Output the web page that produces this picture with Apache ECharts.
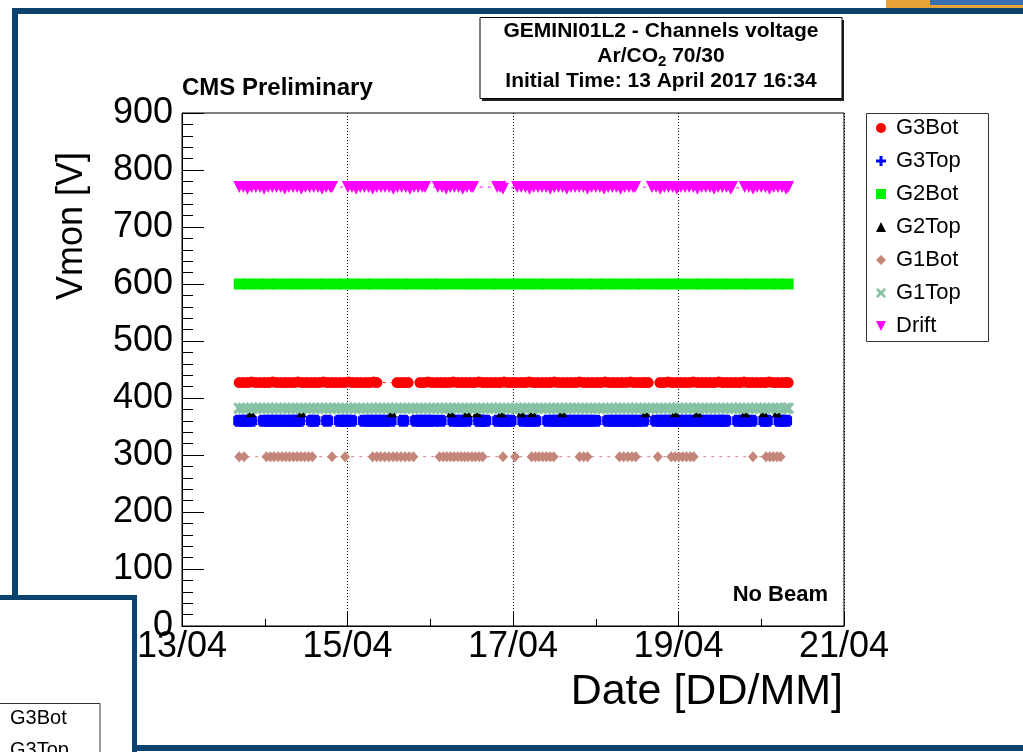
<!DOCTYPE html>
<html>
<head>
<meta charset="utf-8">
<script src="https://cdn.jsdelivr.net/npm/echarts@6/dist/echarts.min.js"></script>
<style>
  html, body { margin: 0; padding: 0; background: #fff; }
  #chart { width: 1023px; height: 752px; }
</style>
</head>
<body>
<div id="chart"></div>
<script>
// Time axis in hours since 13/04/2017 00:00, voltages in volts.
const dayLabels = ['13/04', '15/04', '17/04', '19/04', '21/04'];
const seriesNames = ['G3Bot', 'G3Top', 'G2Bot', 'G2Top', 'G1Bot', 'G1Top', 'Drift'];

const g3Bot = [
  [16.6,427],[17.8,427],[19.0,427],[20.2,428],[21.4,427],[22.7,427],[23.9,427],[25.1,427],[26.3,428],[27.5,427],
  [28.8,427],[30.0,427],[31.2,427],[32.4,427],[33.6,428],[34.9,427],[36.1,427],[37.3,427],[38.5,427],[39.7,427],
  [41.0,428],[42.2,427],[43.4,427],[44.6,427],[45.8,427],[47.1,427],[48.3,428],[49.5,427],[50.7,427],[51.9,427],
  [53.2,427],[54.4,427],[55.6,428],[56.5,427],
  [62.4,427],[63.5,427],[64.6,427],[65.6,427],
  [69.0,427],[70.2,427],[71.4,428],[72.6,427],[73.9,427],[75.1,427],[76.3,427],[77.5,427],[78.7,428],[80.0,427],
  [81.2,427],[82.4,427],[83.6,427],[84.8,427],[86.1,428],[87.3,427],[88.5,427],[89.7,427],[90.9,427],[92.2,427],
  [93.4,428],[94.6,427],[95.8,427],[97.0,427],[98.3,427],[99.5,427],[100.7,428],[101.9,427],[103.1,427],[104.4,427],
  [105.6,427],[106.8,427],[108.0,428],[109.2,427],[110.5,427],[111.7,427],[112.9,427],[114.1,427],[115.3,428],
  [116.6,427],[117.8,427],[119.0,427],[120.2,427],[121.4,427],[122.7,428],[123.9,427],[125.1,427],[126.3,427],
  [127.5,427],[128.8,427],[130.0,428],[131.2,427],[132.4,427],[133.6,427],[134.5,427],[135.2,427],
  [138.6,427],[139.8,427],[141.0,428],[142.2,427],[143.5,427],[144.7,427],[145.9,427],[147.1,427],[148.3,428],
  [149.6,427],[150.8,427],[152.0,427],[153.2,427],[154.4,427],[155.7,428],[156.9,427],[158.1,427],[159.3,427],
  [160.5,427],[161.8,427],[163.0,428],[164.2,427],[165.4,427],[166.6,427],[167.9,427],[169.1,427],[170.3,428],
  [171.5,427],[172.7,427],[174.0,427],[175.2,427],[175.8,427]
];

const g3Top = [
  [16.6,360],[17.8,360],[19.0,360],[20.0,360],
  [23.7,360],[24.9,360],[26.1,360],[27.3,360],[28.5,360],[29.7,360],[30.9,360],[32.1,360],[33.3,360],[34.0,360],
  [37.7,360],[38.4,360],[42.1,360],[45.8,360],[46.8,360],[47.8,360],[49.1,360],
  [52.8,360],[54.1,360],[55.3,360],[56.5,360],[57.7,360],[58.9,360],[60.5,360],
  [64.2,360],[67.9,360],[69.2,360],[70.4,360],[71.6,360],[72.8,360],[75.0,360],
  [78.7,360],[80.0,360],[81.2,360],[82.5,360],[86.2,360],[87.0,360],[88.0,360],
  [91.7,360],[93.0,360],[94.2,360],[95.3,360],[99.0,360],[100.3,360],[101.5,360],[102.5,360],
  [106.2,360],[107.5,360],[108.7,360],[109.9,360],[111.1,360],[112.3,360],[113.5,360],[114.7,360],[115.9,360],
  [117.1,360],[118.3,360],[119.9,360],
  [123.6,360],[124.9,360],[126.1,360],[127.3,360],[128.5,360],[129.7,360],[130.9,360],[132.1,360],[133.8,360],
  [137.5,360],[138.8,360],[140.0,360],[141.2,360],[142.4,360],[143.6,360],[144.8,360],[146.0,360],[147.2,360],
  [148.4,360],[149.6,360],[150.8,360],[152.0,360],[153.2,360],[154.4,360],[155.6,360],[156.8,360],[157.6,360],
  [161.3,360],[162.6,360],[163.8,360],[165.2,360],[168.9,360],[169.6,360],[173.3,360],[174.2,360],[175.2,360]
];

const g2Bot = [
  [16.6,600],[19.3,600],[22.1,600],[24.9,600],[27.6,600],[30.5,600],[33.3,600],[36.0,600],[38.9,600],[41.7,600],
  [44.5,600],[47.2,600],[50.1,600],[52.9,600],[55.6,600],[58.5,600],[61.3,600],[64.1,600],[66.8,600],[69.7,600],
  [72.5,600],[75.2,600],[78.1,600],[80.9,600],[83.7,600],[86.4,600],[89.3,600],[92.1,600],[94.8,600],[97.7,600],
  [100.5,600],[103.3,600],[106.0,600],[108.9,600],[111.7,600],[114.4,600],[117.3,600],[120.1,600],[122.9,600],
  [125.6,600],[128.5,600],[131.3,600],[134.0,600],[136.9,600],[139.7,600],[142.5,600],[145.2,600],[148.1,600],
  [150.9,600],[153.6,600],[156.5,600],[159.3,600],[162.1,600],[164.8,600],[167.7,600],[170.5,600],[173.2,600],[175.8,600]
];

const g2Top = [
  [20.0,375],[34.7,375],[60.9,375],[78.0,375],[82.7,375],[85.6,375],[92.6,375],[98.4,375],
  [101.6,375],[110.3,375],[134.5,375],[143.0,375],[149.5,375],[163.3,375],[168.7,375],[172.5,375]
];

const g1Bot = [
  [16.6,297],[18.0,297],
  [24.5,297],[25.6,297],[26.7,297],[27.9,297],[29.0,297],[30.1,297],[31.2,297],[32.3,297],[33.4,297],[34.5,297],
  [35.6,297],[36.7,297],[37.8,297],
  [43.5,297],[47.3,297],
  [55.3,297],[56.5,297],[57.6,297],[58.8,297],[60.0,297],[61.2,297],[62.3,297],[63.5,297],[64.7,297],[65.9,297],[67.1,297],
  [74.7,297],[75.8,297],[76.8,297],[77.9,297],[78.9,297],[80.0,297],[81.0,297],[82.0,297],[83.0,297],[84.1,297],
  [85.1,297],[86.2,297],[87.2,297],
  [93.1,297],[96.6,297],
  [101.4,297],[102.5,297],[103.5,297],[104.6,297],[105.7,297],[106.8,297],[107.8,297],
  [115.3,297],[116.5,297],[117.6,297],
  [126.9,297],[128.1,297],[129.3,297],[130.5,297],[131.6,297],
  [138.0,297],
  [141.9,297],[143.0,297],[144.1,297],[145.2,297],[146.3,297],[147.4,297],[148.4,297],
  [165.6,297],
  [169.4,297],[170.5,297],[171.5,297],[172.6,297],[173.6,297]
];

const g1Top = [
  [16.6,382],[17.8,382],[19.0,382],[20.2,382],[21.4,382],[22.6,382],[23.8,382],[25.0,382],[26.2,382],[27.4,382],
  [28.6,382],[29.8,382],[31.0,382],[32.2,382],[33.4,382],[34.6,382],[35.8,382],[37.0,382],[38.2,382],[39.4,382],
  [40.6,382],[41.8,382],[43.0,382],[44.2,382],[45.4,382],[46.6,382],[47.8,382],[49.0,382],[50.2,382],[51.4,382],
  [52.6,382],[53.8,382],[55.0,382],[56.2,382],[57.4,382],[58.6,382],[59.8,382],[61.0,382],[62.2,382],[63.4,382],
  [64.6,382],[65.8,382],[67.0,382],[68.2,382],[69.4,382],[70.6,382],[71.8,382],[73.0,382],[74.2,382],[75.4,382],
  [76.6,382],[77.8,382],[79.0,382],[80.2,382],[81.4,382],[82.6,382],[83.8,382],[85.0,382],[86.2,382],[87.4,382],
  [88.6,382],[89.8,382],[91.0,382],[92.2,382],[93.4,382],[94.6,382],[95.8,382],[97.0,382],[98.2,382],[99.4,382],
  [100.6,382],[101.8,382],[103.0,382],[104.2,382],[105.4,382],[106.6,382],[107.8,382],[109.0,382],[110.2,382],
  [111.4,382],[112.6,382],[113.8,382],[115.0,382],[116.2,382],[117.4,382],[118.6,382],[119.8,382],[121.0,382],
  [122.2,382],[123.4,382],[124.6,382],[125.8,382],[127.0,382],[128.2,382],[129.4,382],[130.6,382],[131.8,382],
  [133.0,382],[134.2,382],[135.4,382],[136.6,382],[137.8,382],[139.0,382],[140.2,382],[141.4,382],[142.6,382],
  [143.8,382],[145.0,382],[146.2,382],[147.4,382],[148.6,382],[149.8,382],[151.0,382],[152.2,382],[153.4,382],
  [154.6,382],[155.8,382],[157.0,382],[158.2,382],[159.4,382],[160.6,382],[161.8,382],[163.0,382],[164.2,382],
  [165.4,382],[166.6,382],[167.8,382],[169.0,382],[170.2,382],[171.4,382],[172.6,382],[173.8,382],[175.0,382],[175.8,382]
];

const drift = [
  [16.6,770],[17.8,770],[19.0,767],[20.2,770],[21.4,770],[22.6,770],[23.8,767],[25.0,770],[26.2,770],[27.4,770],
  [28.6,770],[29.8,767],[31.0,770],[32.2,770],[33.4,770],[34.6,767],[35.8,770],[37.0,770],[38.2,770],[39.4,770],
  [40.6,767],[41.8,770],[43.0,770],[43.5,770],
  [48.1,770],[49.3,770],[50.5,767],[51.7,770],[52.9,770],[54.1,770],[55.3,767],[56.5,770],[57.7,770],[58.9,770],
  [60.1,770],[61.3,767],[62.5,770],[63.7,770],[64.9,770],[66.1,767],[67.3,770],[68.5,770],[69.7,770],[70.5,770],
  [74.2,770],[75.4,770],[76.6,767],[77.8,770],[79.0,770],[80.2,770],[81.4,767],[82.6,770],[83.8,770],[84.4,770],
  [91.4,770],[92.3,770],[93.1,767],
  [97.2,770],[98.4,770],[99.6,770],[100.8,767],[102.0,770],[103.2,770],[104.4,770],[105.6,770],[106.8,767],
  [108.0,770],[109.2,770],[110.4,770],[111.6,767],[112.8,770],[114.0,770],[115.2,770],[116.4,770],[117.6,767],
  [118.8,770],[120.0,770],[121.2,770],[122.4,767],[123.6,770],[124.8,770],[126.0,770],[127.2,767],[128.4,770],
  [129.6,770],[130.8,770],[131.4,770],
  [136.3,770],[137.5,770],[138.7,767],[139.9,770],[141.1,770],[142.3,770],[143.5,767],[144.7,770],[145.9,770],
  [147.1,770],[148.3,770],[149.5,767],[150.7,770],[151.9,770],[153.1,770],[154.3,767],[155.5,770],[156.7,770],
  [157.9,770],[159.1,767],[159.5,770],
  [163.2,770],[164.4,770],[165.6,767],[166.8,770],[168.0,770],[169.2,770],[170.4,767],[171.6,770],[172.8,770],
  [174.0,770],[175.2,767],[175.8,770]
];

const FONT = '"Liberation Sans", Arial, Helvetica, sans-serif';
const FRAME_BLUE = '#0b426e';

const CROSS = 'path://M1.5,0H10.5V1.5H12V10.5H10.5V12H1.5V10.5H0V1.5H1.5Z';
const FAT_X = 'path://M0,2L2,0L6,3.5L10,0L12,2L8.5,6L12,10L10,12L6,8.5L2,12L0,10L3.5,6Z';
const DOWN_TRI = 'path://M0,0L10,0L5,10Z';

const styles = [
  { data: g3Bot, color: '#ff0000', symbol: 'circle', size: 11, icon: 'circle' },
  { data: g3Top, color: '#0000ff', symbol: CROSS, size: 12, icon: 'path://M3.5,0H6.5V3.5H10V6.5H6.5V10H3.5V6.5H0V3.5H3.5Z' },
  { data: g2Bot, color: '#00f000', symbol: 'rect', size: 11, icon: 'rect' },
  { data: g2Top, color: '#000000', symbol: 'triangle', size: 10, icon: 'triangle', noLine: true },
  { data: g1Bot, color: '#c4867b', symbol: 'diamond', size: [10, 11], icon: 'diamond' },
  { data: g1Top, color: '#86c2a3', symbol: FAT_X, size: 12, icon: FAT_X },
  { data: drift, color: '#ff00ff', symbol: DOWN_TRI, size: 12, icon: DOWN_TRI }
];

const series = seriesNames.map((name, i) => {
  const s = styles[i];
  return {
    name: name,
    type: 'line',
    data: s.data,
    z: 3 + i,
    symbol: s.symbol,
    symbolSize: s.size,
    showSymbol: true,
    animation: false,
    itemStyle: { color: s.color, borderWidth: 0 },
    lineStyle: { color: s.color, width: s.noLine ? 0 : 1, type: [3, 5] },
    emphasis: { disabled: true },
    silent: true
  };
});

// text width helper for the subscripted gas line in the title box
const measureCtx = document.createElement('canvas').getContext('2d');
function textWidth(txt, font) { measureCtx.font = font; return measureCtx.measureText(txt).width; }

const titleFont = 'bold 21px ' + FONT;
const subFont = 'bold 15px ' + FONT;
const gasParts = ['Ar/CO', '2', ' 70/30'];
const gasW = [textWidth(gasParts[0], titleFont), textWidth(gasParts[1], subFont), textWidth(gasParts[2], titleFont)];
const gasX0 = 661 - (gasW[0] + gasW[1] + gasW[2]) / 2;

function txt(x, y, text, font, align, extra) {
  return Object.assign({
    type: 'text', x: x, y: y, silent: true, z: 50,
    style: { text: text, font: font, fill: '#000', align: align || 'left', verticalAlign: 'middle' }
  }, extra || {});
}
function box(x, y, w, h, fill, extra) {
  return Object.assign({ type: 'rect', silent: true, z: 40, shape: { x: x, y: y, width: w, height: h }, style: { fill: fill } }, extra || {});
}

const graphic = [
  // title pave with shadow
  box(482, 20, 362, 81, '#222', { z: 40 }),
  box(480, 17.5, 362, 81, '#fff', { z: 41, style: { fill: '#fff', stroke: '#000', lineWidth: 1 } }),
  txt(661, 31, 'GEMINI01L2 - Channels voltage', titleFont, 'center'),
  txt(gasX0, 56, gasParts[0], titleFont, 'left'),
  txt(gasX0 + gasW[0], 62, gasParts[1], subFont, 'left'),
  txt(gasX0 + gasW[0] + gasW[1], 56, gasParts[2], titleFont, 'left'),
  txt(661, 81, 'Initial Time: 13 April 2017 16:34', titleFont, 'center'),

  txt(182, 88, 'CMS Preliminary', 'bold 24px ' + FONT, 'left'),
  txt(828, 595, 'No Beam', 'bold 22px ' + FONT, 'right'),
  txt(843, 692, 'Date [DD/MM]', '43px ' + FONT, 'right'),
  txt(72, 152, 'Vmon [V]', '36px ' + FONT, 'right', { rotation: Math.PI / 2 }),

  // legend frame
  box(866.5, 113.5, 122, 228, '#fff', { z: 1, style: { fill: '#fff', stroke: '#333', lineWidth: 1 } }),

  // surrounding window borders
  box(12, 8, 1011, 6, FRAME_BLUE, { z: 60 }),
  box(12, 8, 6, 590, FRAME_BLUE, { z: 60 }),
  box(133, 745, 890, 6, FRAME_BLUE, { z: 60 }),
  box(0, 597, 135, 155, '#fff', { z: 61 }),
  box(0, 595, 137, 5, FRAME_BLUE, { z: 62 }),
  box(132, 595, 5, 157, FRAME_BLUE, { z: 62 }),
  box(-1, 703.5, 101, 60, 'none', { z: 62, style: { fill: '#fff', stroke: '#333', lineWidth: 1 } }),
  txt(10, 718, 'G3Bot', '20px ' + FONT, 'left', { z: 63 }),
  txt(10, 750, 'G3Top', '20px ' + FONT, 'left', { z: 63 }),
  box(886, 0, 137, 8, '#e8a23a', { z: 60 }),
  box(930, 0, 93, 5, '#3a6fb0', { z: 61 })
];

const chart = echarts.init(document.getElementById('chart'), null, { renderer: 'canvas' });
chart.setOption({
  animation: false,
  backgroundColor: '#fff',
  textStyle: { fontFamily: FONT },
  grid: {
    left: 182, top: 113, right: 179, bottom: 126,
    show: true, borderColor: '#000', borderWidth: 1, backgroundColor: 'transparent',
    outerBoundsMode: 'none'
  },
  xAxis: {
    type: 'value', min: 0, max: 192, interval: 48,
    axisLine: { show: true, lineStyle: { color: '#000', width: 1 } },
    axisTick: { show: true, inside: true, length: 14, lineStyle: { color: '#000', width: 1 } },
    minorTick: { show: true, splitNumber: 2, length: 7, lineStyle: { color: '#000', width: 1 } },
    splitLine: { show: true, lineStyle: { color: '#000', width: 1, type: [1, 2] } },
    minorSplitLine: { show: false },
    axisLabel: {
      show: true, fontSize: 36, color: '#000', margin: 3, fontFamily: FONT,
      formatter: (v) => dayLabels[Math.round(v / 48)]
    }
  },
  yAxis: {
    type: 'value', min: 0, max: 900, interval: 100,
    axisLine: { show: true, lineStyle: { color: '#000', width: 1 } },
    axisTick: { show: true, inside: true, length: 22, lineStyle: { color: '#000', width: 1 } },
    minorTick: { show: true, splitNumber: 5, length: 11, lineStyle: { color: '#000', width: 1 } },
    splitLine: { show: false },
    axisLabel: { show: true, fontSize: 36, color: '#000', margin: 9, fontFamily: FONT }
  },
  legend: {
    show: true, orient: 'vertical', left: 876, top: 117, padding: 0,
    itemWidth: 10, itemHeight: 10, itemGap: 11, selectedMode: false,
    textStyle: { fontSize: 22, lineHeight: 22, color: '#000', fontFamily: FONT, padding: [0, 0, 0, 5] },
    data: seriesNames.map((n, i) => ({ name: n, icon: styles[i].icon, itemStyle: { color: styles[i].color } }))
  },
  tooltip: { show: false },
  graphic: graphic,
  series: series
});
</script>
</body>
</html>
